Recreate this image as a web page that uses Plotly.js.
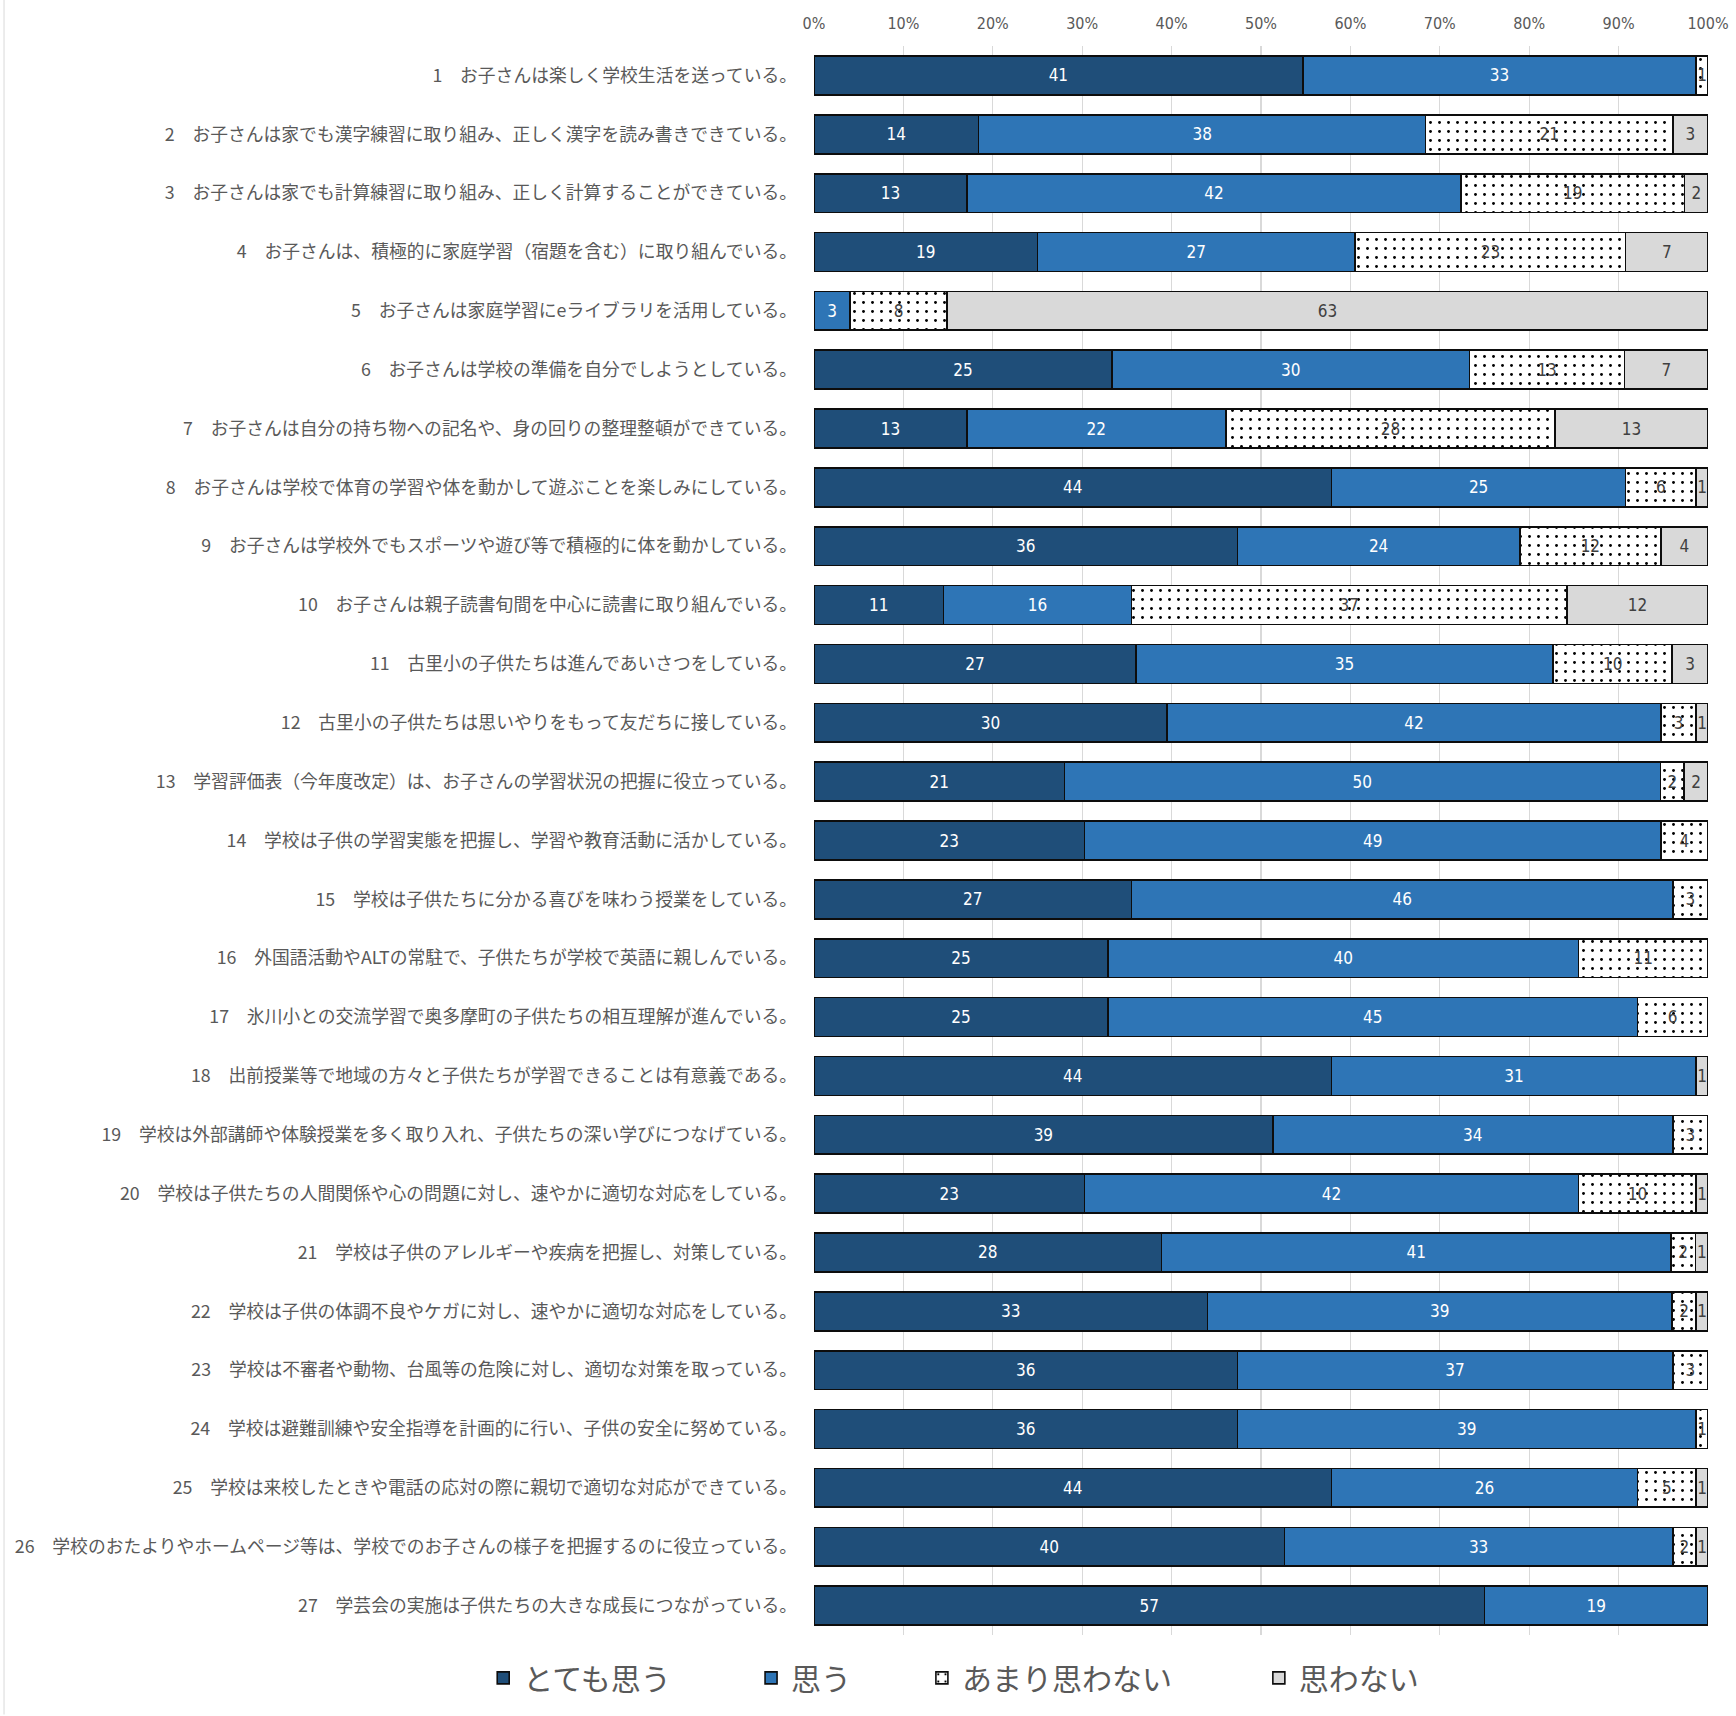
<!DOCTYPE html>
<html>
<head>
<meta charset="utf-8">
<script src="https://cdn.plot.ly/plotly-3.0.1.min.js"></script>
<style>
  html, body { margin: 0; padding: 0; background: #ffffff; }
  #chart { width: 1736px; height: 1716px; }
</style>
</head>
<body>
<div id="chart"></div>
<script>
const categories = [
  "1　お子さんは楽しく学校生活を送っている。",
  "2　お子さんは家でも漢字練習に取り組み、正しく漢字を読み書きできている。",
  "3　お子さんは家でも計算練習に取り組み、正しく計算することができている。",
  "4　お子さんは、積極的に家庭学習（宿題を含む）に取り組んでいる。",
  "5　お子さんは家庭学習にeライブラリを活用している。",
  "6　お子さんは学校の準備を自分でしようとしている。",
  "7　お子さんは自分の持ち物への記名や、身の回りの整理整頓ができている。",
  "8　お子さんは学校で体育の学習や体を動かして遊ぶことを楽しみにしている。",
  "9　お子さんは学校外でもスポーツや遊び等で積極的に体を動かしている。",
  "10　お子さんは親子読書旬間を中心に読書に取り組んでいる。",
  "11　古里小の子供たちは進んであいさつをしている。",
  "12　古里小の子供たちは思いやりをもって友だちに接している。",
  "13　学習評価表（今年度改定）は、お子さんの学習状況の把握に役立っている。",
  "14　学校は子供の学習実態を把握し、学習や教育活動に活かしている。",
  "15　学校は子供たちに分かる喜びを味わう授業をしている。",
  "16　外国語活動やALTの常駐で、子供たちが学校で英語に親しんでいる。",
  "17　氷川小との交流学習で奥多摩町の子供たちの相互理解が進んでいる。",
  "18　出前授業等で地域の方々と子供たちが学習できることは有意義である。",
  "19　学校は外部講師や体験授業を多く取り入れ、子供たちの深い学びにつなげている。",
  "20　学校は子供たちの人間関係や心の問題に対し、速やかに適切な対応をしている。",
  "21　学校は子供のアレルギーや疾病を把握し、対策している。",
  "22　学校は子供の体調不良やケガに対し、速やかに適切な対応をしている。",
  "23　学校は不審者や動物、台風等の危険に対し、適切な対策を取っている。",
  "24　学校は避難訓練や安全指導を計画的に行い、子供の安全に努めている。",
  "25　学校は来校したときや電話の応対の際に親切で適切な対応ができている。",
  "26　学校のおたよりやホームページ等は、学校でのお子さんの様子を把握するのに役立っている。",
  "27　学芸会の実施は子供たちの大きな成長につながっている。"
];

const seriesNames = ["とても思う", "思う", "あまり思わない", "思わない"];

const veryAgree = [41,14,13,19,0,25,13,44,36,11,27,30,21,23,27,25,25,44,39,23,28,33,36,36,44,40,57];
const agree     = [33,38,42,27,3,30,22,25,24,16,35,42,50,49,46,40,45,31,34,42,41,39,37,39,26,33,19];
const notMuch   = [1,21,19,23,8,13,28,6,12,37,10,3,2,4,3,11,6,0,3,10,2,2,3,1,5,2,0];
const disagree  = [0,3,2,7,63,7,13,1,4,12,3,1,2,0,0,0,0,1,0,1,1,1,0,0,1,1,0];

const xTickValues = [0,10,20,30,40,50,60,70,80,90,100];
const xTickLabels = ["0%","10%","20%","30%","40%","50%","60%","70%","80%","90%","100%"];

const numFont = "Liberation Sans Narrow, DejaVu Sans Condensed, Noto Sans, sans-serif";
const jpFont = "Noto Sans CJK JP, sans-serif";

function labelsOf(vals) { return vals.map(v => v ? String(v) : ""); }

const styles = [
  { color: "#1F4E79", text: "#ffffff", pattern: null },
  { color: "#2E75B6", text: "#ffffff", pattern: null },
  { color: "#ffffff", text: "#404040", pattern: { shape: ".", fgcolor: "#000000", bgcolor: "#ffffff", size: 9, solidity: 0.08, fillmode: "replace" } },
  { color: "#D9D9D9", text: "#404040", pattern: null }
];

const allSeries = [veryAgree, agree, notMuch, disagree];
const legendIds = ["legend", "legend2", "legend3", "legend4"];
const legendX = [-0.370, -0.0704, 0.1207, 0.4976];

const traces = allSeries.map((vals, i) => {
  const marker = { color: styles[i].color, line: { color: "#0d0d0d", width: 1.6 } };
  if (styles[i].pattern) marker.pattern = styles[i].pattern;
  return {
    type: "bar",
    orientation: "h",
    name: seriesNames[i],
    legend: legendIds[i],
    y: categories,
    x: vals,
    marker: marker,
    text: labelsOf(vals),
    textposition: "inside",
    insidetextanchor: "middle",
    constraintext: "none",
    textangle: 0,
    textfont: { family: numFont, size: 17, color: styles[i].text },
    hoverinfo: "skip"
  };
});

function legendBox(x) {
  return {
    orientation: "h",
    x: x,
    xanchor: "left",
    y: -0.027,
    yanchor: "middle",
    font: { family: jpFont, size: 30, color: "#595959" },
    bgcolor: "rgba(0,0,0,0)"
  };
}

const layout = {
  width: 1736,
  height: 1716,
  paper_bgcolor: "#ffffff",
  plot_bgcolor: "#ffffff",
  barmode: "stack",
  barnorm: "percent",
  bargap: 0.34,
  margin: { l: 814, r: 28, t: 46, b: 79, pad: 0 },
  uniformtext: { mode: "show", minsize: 17 },
  xaxis: {
    side: "top",
    range: [0, 100],
    tickmode: "array",
    tickvals: xTickValues,
    ticktext: xTickLabels,
    showgrid: true,
    gridcolor: "#d9d9d9",
    gridwidth: 1.3,
    zeroline: false,
    showline: false,
    ticks: "",
    ticklabelstandoff: 13,
    tickfont: { family: numFont, size: 16, color: "#595959" },
    fixedrange: true
  },
  yaxis: {
    type: "category",
    autorange: "reversed",
    showgrid: false,
    zeroline: false,
    showline: false,
    ticks: "",
    ticklabelstandoff: 16,
    tickfont: { family: jpFont, size: 17.8, color: "#595959" },
    fixedrange: true
  },
  legend: legendBox(legendX[0]),
  legend2: legendBox(legendX[1]),
  legend3: legendBox(legendX[2]),
  legend4: legendBox(legendX[3]),
  shapes: [
    { type: "line", xref: "paper", yref: "paper", x0: -0.906, x1: -0.906, y0: -0.05, y1: 1.03,
      line: { color: "#d9d9d9", width: 1 } }
  ],
  showlegend: true
};

Plotly.newPlot("chart", traces, layout, { staticPlot: true, displayModeBar: false });
</script>
</body>
</html>
